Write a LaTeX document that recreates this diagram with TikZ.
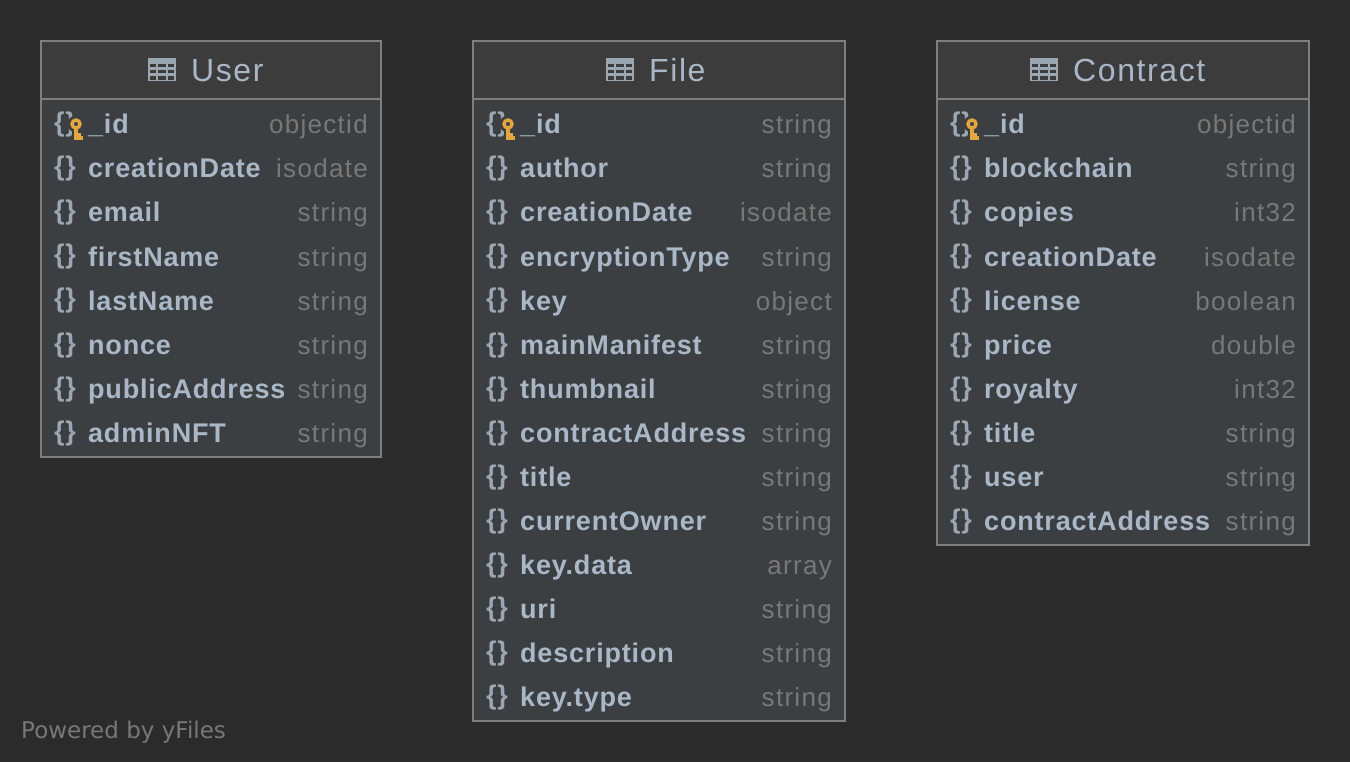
\documentclass[tikz,border=0pt]{standalone}
\usepackage{fontspec}
\setmainfont[LetterSpace=5]{Liberation Sans}
\newfontfamily\djv{DejaVu Sans}
\newfontfamily\brc[LetterSpace=3]{Liberation Sans}
\newfontfamily\nmf[LetterSpace=3]{Liberation Sans}
\definecolor{bgc}{HTML}{2B2B2B}
\definecolor{headc}{HTML}{3C3C3C}
\definecolor{bodyc}{HTML}{3C3F41}
\definecolor{linec}{HTML}{7E7E7E}
\definecolor{textc}{HTML}{A9B7C6}
\definecolor{typec}{HTML}{787878}
\definecolor{iconc}{HTML}{9AA7B0}
\definecolor{keyc}{HTML}{E5A63B}
\tikzset{
  box/.style={draw=linec,line width=2pt},
  fieldname/.style={anchor=base west,inner sep=0pt,text=textc,font=\nmf\fontsize{27}{30}\selectfont\bfseries},
  fieldtype/.style={anchor=base east,inner sep=0pt,text=typec,font=\fontsize{26}{30}\selectfont},
  brace/.style={anchor=base west,inner sep=0pt,text=iconc,font=\brc\fontsize{27}{30}\selectfont\bfseries},
  titletext/.style={anchor=base west,inner sep=0pt,text=textc,font=\fontsize{32}{36}\selectfont},
  footer/.style={anchor=base west,inner sep=0pt,text=typec,font=\djv\fontsize{23}{26}\selectfont}
}
\newcommand{\tabicon}[2]{%
  \fill[iconc] (#1,#2) rectangle ++(28,23.5);
  \foreach \cx/\cw in {2/6,10/8,20/6}
    \foreach \cy/\ch in {6/3.5,12/3.5,18/3.8}
      \fill[headc] (#1+\cx,#2+\cy) rectangle ++(\cw,\ch);
}
\newcommand{\keyicon}[2]{%
  \fill[bodyc] (#1,#2) circle (8.5);
  \fill[bodyc] (#1-4.5,#2) rectangle ++(12,18);
  \draw[keyc,line width=3.4pt] (#1,#2) circle (4);
  \fill[keyc] (#1-2.4,#2+4) rectangle ++(4.8,12);
  \fill[keyc] (#1+2,#2+9) rectangle ++(3,2.6);
  \fill[keyc] (#1+2,#2+12.5) rectangle ++(4.8,3.5);
}
\newcommand{\dbtable}[7]{% id, x0, x1, bottom, icon x, title, rows
  \fill[headc] (#2,41) rectangle (#3,99);
  \fill[bodyc] (#2,99) rectangle (#3,#4);
  \draw[box] (#2,41) rectangle (#3,#4);
  \draw[box] (#2,99) -- (#3,99);
  \tabicon{#5}{58}
  \node[titletext] (#1-title) at (#5+43,82) {#6};
  \foreach \nm/\ty [count=\i] in {#7} {
    \node[brace] (#1-b\i) at (#2+13,{125+44*(\i-1)+7}) {\{\}};
    \node[fieldname] (#1-n\i) at (#2+47,{125+44*(\i-1)+9}) {\nm};
    \node[fieldtype] (#1-t\i) at (#3-13,{125+44*(\i-1)+9}) {\ty};
  }
  \keyicon{#2+35}{124}
}
\begin{document}
\begin{tikzpicture}[x=1pt,y=-1pt]
\fill[bgc] (0,0) rectangle (1350,762);
\useasboundingbox (0,0) rectangle (1350,762);
\dbtable{user}{41}{381}{457}{148}{User}{\_id/objectid,creationDate/isodate,email/string,firstName/string,lastName/string,nonce/string,publicAddress/string,adminNFT/string}
\dbtable{file}{473}{845}{721}{606}{File}{\_id/string,author/string,creationDate/isodate,encryptionType/string,key/object,mainManifest/string,thumbnail/string,contractAddress/string,title/string,currentOwner/string,key.data/array,uri/string,description/string,key.type/string}
\dbtable{contract}{937}{1309}{545}{1030}{Contract}{\_id/objectid,blockchain/string,copies/int32,creationDate/isodate,license/boolean,price/double,royalty/int32,title/string,user/string,contractAddress/string}
\node[footer] (powered) at (21,738) {Powered by yFiles};
\end{tikzpicture}
\end{document}
